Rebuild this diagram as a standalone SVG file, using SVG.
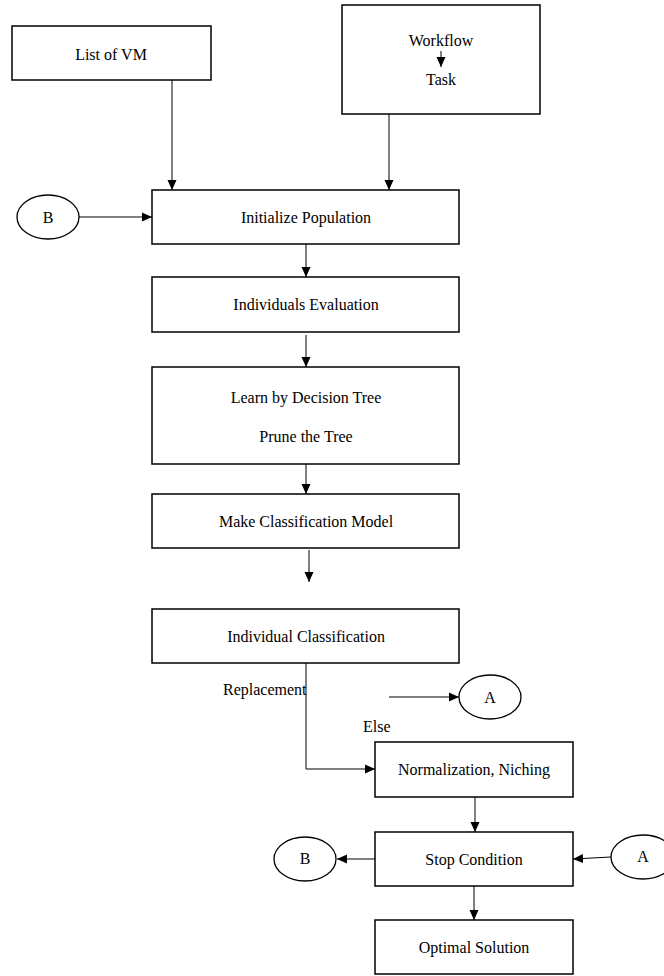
<svg xmlns="http://www.w3.org/2000/svg" width="664" height="976" viewBox="0 0 664 976">
<style>
.box{fill:#fff;stroke:#000;stroke-width:1.5}
.ell{fill:#fff;stroke:#000;stroke-width:1.3}
text{font-family:'Liberation Serif','Times New Roman',serif !important;font-size:16px;fill:#000}
.c{text-anchor:middle}
.ln{fill:none;stroke:#000;stroke-width:1;marker-end:url(#ah)}
</style>
<defs>
<marker id="ah" markerUnits="userSpaceOnUse" markerWidth="10" markerHeight="10" viewBox="0 0 10 10" refX="10" refY="5" orient="auto">
<path d="M0,0.5 L10,5 L0,9.5 Z" fill="#000"/>
</marker>
</defs>
<rect width="664" height="976" fill="#fff"/>
<g id="connectors">
<line class="ln" x1="172" y1="80" x2="172" y2="190"/>
<line class="ln" x1="389" y1="114" x2="389" y2="190"/>
<line class="ln" x1="79" y1="217" x2="152" y2="217"/>
<line class="ln" x1="306" y1="244" x2="306" y2="277"/>
<line class="ln" x1="306" y1="335" x2="306" y2="367"/>
<line class="ln" x1="306" y1="464" x2="306" y2="494"/>
<line class="ln" x1="309" y1="550" x2="309" y2="582"/>
<path class="ln" d="M306 663 V769 H375"/>
<line class="ln" x1="389" y1="697" x2="459" y2="697"/>
<line class="ln" x1="475" y1="797" x2="475" y2="832"/>
<line class="ln" x1="375" y1="859" x2="337" y2="859"/>
<line class="ln" x1="611" y1="857" x2="573" y2="859"/>
<line class="ln" x1="474" y1="886" x2="474" y2="920"/>
</g>
<g id="listvm"><rect class="box" x="12" y="26" width="199" height="54"/><text font-family="Liberation Serif" class="c" x="111" y="60">List of VM</text></g>
<g id="workflow"><rect class="box" x="342" y="5" width="198" height="109"/><text font-family="Liberation Serif" class="c" x="441" y="46">Workflow</text><line class="ln" x1="441" y1="51" x2="441" y2="67"/><text font-family="Liberation Serif" class="c" x="441" y="85">Task</text></g>
<g id="b-top"><ellipse class="ell" cx="48" cy="217" rx="31" ry="22"/><text font-family="Liberation Serif" class="c" x="48" y="223">B</text></g>
<g id="init"><rect class="box" x="152" y="190" width="307" height="54"/><text font-family="Liberation Serif" class="c" x="306" y="223">Initialize Population</text></g>
<g id="indeval"><rect class="box" x="152" y="277" width="307" height="55"/><text font-family="Liberation Serif" class="c" x="306" y="310">Individuals Evaluation</text></g>
<g id="learn"><rect class="box" x="152" y="367" width="307" height="97"/><text font-family="Liberation Serif" class="c" x="306" y="403">Learn by Decision Tree</text><text font-family="Liberation Serif" class="c" x="306" y="442">Prune the Tree</text></g>
<g id="make"><rect class="box" x="152" y="494" width="307" height="54"/><text font-family="Liberation Serif" class="c" x="306" y="527">Make Classification Model</text></g>
<g id="indclass"><rect class="box" x="152" y="609" width="307" height="54"/><text font-family="Liberation Serif" class="c" x="306" y="642">Individual Classification</text></g>
<g id="labels"><text font-family="Liberation Serif" x="223" y="695">Replacement</text><text font-family="Liberation Serif" x="363" y="732">Else</text></g>
<g id="a-top"><ellipse class="ell" cx="490" cy="697" rx="31" ry="22"/><text font-family="Liberation Serif" class="c" x="490" y="703">A</text></g>
<g id="norm"><rect class="box" x="375" y="742" width="198" height="55"/><text font-family="Liberation Serif" class="c" x="474" y="775">Normalization, Niching</text></g>
<g id="stop"><rect class="box" x="375" y="832" width="198" height="54"/><text font-family="Liberation Serif" class="c" x="474" y="865">Stop Condition</text></g>
<g id="b-bottom"><ellipse class="ell" cx="305" cy="859" rx="31" ry="22"/><text font-family="Liberation Serif" class="c" x="305" y="864">B</text></g>
<g id="a-right"><ellipse class="ell" cx="643" cy="857" rx="32" ry="22"/><text font-family="Liberation Serif" class="c" x="643" y="862">A</text></g>
<g id="optimal"><rect class="box" x="375" y="920" width="198" height="54"/><text font-family="Liberation Serif" class="c" x="474" y="953">Optimal Solution</text></g>
</svg>
